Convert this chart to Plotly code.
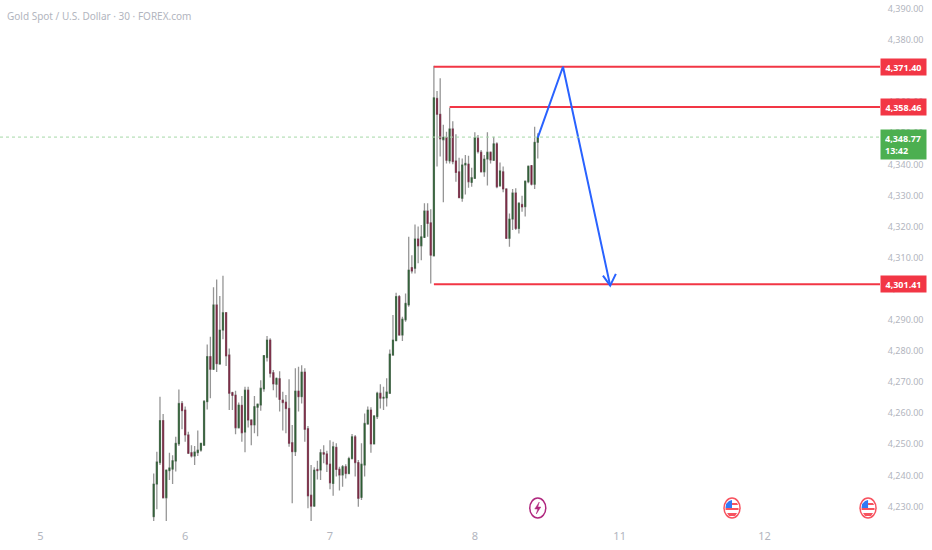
#!/usr/bin/python3
# -*- coding: utf-8 -*-
import plotly.graph_objs as go

# 30 minute bars
bar_open = [4226.7,4237.2,4244.1,4257.6,4232.8,4241.5,4242.0,4244.6,4250.1,4263.1,4261.0,4253.0,4247.3,4246.2,4247.3,4248.1,4249.7,4263.7,4278.2,4274.1,
    4294.8,4275.8,4286.7,4292.3,4278.7,4266.6,4265.8,4255.3,4262.5,4253.9,4267.4,4257.8,4256.2,4261.9,4262.6,4267.8,4277.9,4283.5,4273.0,4269.3,
    4271.1,4264.2,4263.5,4261.5,4250.5,4247.6,4267.1,4265.3,4273.2,4255.0,4233.6,4230.1,4241.9,4241.7,4247.3,4246.9,4243.6,4237.4,4249.0,4242.0,
    4240.1,4242.8,4240.6,4245.4,4252.4,4244.1,4232.9,4243.3,4256.5,4261.0,4250.1,4258.9,4266.4,4264.8,4264.9,4266.4,4278.7,4283.3,4297.5,4285.1,
    4290.0,4294.8,4306.8,4306.6,4316.0,4313.8,4316.5,4325.0,4321.2,4310.6,4361.2,4356.1,4347.9,4348.7,4341.1,4351.4,4341.1,4337.6,4329.1,4339.8,
    4340.1,4334.2,4335.5,4348.4,4343.9,4337.6,4341.7,4343.9,4341.3,4346.6,4333.1,4337.6,4332.1,4316.2,4322.4,4330.8,4319.4,4327.1,4326.4,4334.4,
    4339.6,4333.6,4347.1]
bar_high = [4240.6,4247.6,4265.3,4259.7,4241.7,4247.3,4246.5,4252.4,4267.6,4263.9,4262.1,4254.0,4249.7,4249.4,4254.4,4250.5,4264.2,4282.1,4284.6,4300.5,
    4303.0,4297.7,4304.2,4292.4,4280.8,4266.9,4267.2,4263.4,4265.5,4268.5,4268.5,4258.0,4265.5,4262.9,4270.6,4278.7,4284.8,4284.1,4273.9,4271.5,
    4273.5,4266.9,4265.8,4270.9,4256.2,4274.4,4274.9,4275.4,4274.4,4255.9,4243.3,4242.6,4244.7,4248.4,4249.7,4247.9,4251.3,4250.8,4250.3,4242.8,
    4243.3,4243.6,4246.0,4253.3,4253.0,4244.9,4250.3,4259.9,4262.1,4261.9,4259.4,4266.9,4269.3,4268.5,4271.2,4280.5,4291.6,4298.7,4298.0,4291.0,
    4298.5,4316.7,4310.8,4320.7,4320.0,4320.5,4327.5,4327.5,4325.6,4371.7,4363.6,4367.7,4352.7,4350.5,4358.2,4353.9,4349.7,4342.1,4341.9,4343.0,
    4342.8,4338.9,4350.3,4349.4,4344.6,4343.0,4350.3,4344.1,4348.9,4347.1,4340.6,4339.3,4332.1,4324.2,4332.1,4332.3,4327.8,4329.9,4334.6,4339.6,
    4339.8,4352.1,4350.0]
bar_low = [4224.8,4229.1,4243.3,4232.8,4225.1,4238.5,4237.2,4241.2,4249.4,4254.8,4250.8,4246.9,4245.7,4243.3,4246.2,4247.6,4249.4,4261.2,4264.8,4273.9,
    4273.2,4275.8,4283.8,4275.2,4261.0,4261.0,4253.2,4255.1,4250.8,4247.4,4255.4,4249.7,4253.5,4252.6,4260.8,4266.9,4276.6,4271.5,4267.4,4265.0,
    4260.5,4254.4,4253.5,4249.2,4231.0,4246.2,4260.5,4263.1,4250.8,4229.4,4225.1,4230.1,4238.7,4238.5,4243.9,4241.1,4235.5,4233.4,4239.6,4235.1,
    4236.3,4239.0,4240.4,4245.1,4239.6,4229.9,4232.1,4239.6,4256.4,4247.3,4250.0,4258.1,4261.5,4261.0,4262.1,4266.2,4278.4,4283.3,4284.9,4283.2,
    4289.4,4294.2,4304.9,4304.9,4308.2,4309.2,4316.4,4316.7,4301.7,4310.6,4339.3,4342.5,4327.8,4340.3,4340.3,4340.0,4334.4,4329.1,4328.0,4330.3,
    4332.5,4332.8,4335.3,4343.5,4337.4,4336.0,4333.2,4340.3,4341.1,4332.3,4332.8,4331.0,4316.2,4313.5,4318.9,4318.9,4317.8,4324.8,4323.2,4333.9,
    4333.2,4332.1,4341.9]
bar_close = [4237.2,4244.3,4257.6,4232.8,4241.7,4242.4,4244.7,4250.3,4263.1,4260.8,4253.0,4247.1,4246.2,4247.5,4248.1,4250.3,4263.8,4278.2,4274.1,4294.8,
    4275.9,4286.7,4292.3,4278.4,4266.4,4265.7,4255.3,4262.6,4253.7,4267.4,4257.8,4256.2,4262.1,4262.9,4268.0,4278.5,4283.5,4272.8,4269.4,4271.2,
    4264.4,4263.4,4261.5,4250.3,4247.6,4267.1,4265.3,4273.2,4254.8,4233.4,4230.1,4241.7,4241.5,4247.3,4246.8,4243.6,4237.6,4249.2,4241.9,4240.1,
    4242.8,4240.6,4245.4,4252.4,4244.1,4232.6,4243.6,4256.7,4261.0,4250.1,4259.1,4266.4,4264.8,4265.1,4266.8,4279.0,4283.5,4297.5,4285.1,4290.2,
    4295.3,4306.0,4305.7,4316.0,4313.8,4316.7,4325.0,4321.0,4310.8,4361.4,4356.1,4348.2,4348.7,4341.3,4351.4,4340.9,4337.4,4329.3,4339.8,4340.3,
    4334.4,4335.7,4348.6,4344.1,4337.6,4341.7,4343.9,4341.4,4346.6,4332.8,4337.9,4332.1,4316.2,4322.4,4330.8,4319.4,4327.5,4326.3,4334.6,4339.4,
    4333.6,4347.1,4348.6]

level_prices = [4371.40, 4358.46, 4301.41]
level_starts = [89, 94, 89]
level_text = ["4,371.40", "4,358.46", "4,301.41"]
last_price = 4348.77
last_text = "4,348.77<br>13:42"

# hand drawn projection, bar number / price
path_x = [122, 130, 145]
path_y = [4348.6, 4371.4, 4301.0]
head_x = [142.7, 145, 146.8]
head_y = [4304.2, 4301.0, 4304.8]

day_ticks = [-36, 10, 56, 102, 148, 194]
day_text = ["5", "6", "7", "8", "11", "12"]
price_ticks = [4230,4240,4250,4260,4270,4280,4290,4300,4310,4320,4330,4340,4350,4360,4370,4380,4390]
bolt_event = [122]
flag_events = [183.7, 226.9]
event_price = 4229.5

x_end = 230.7
bars = list(range(len(bar_open)))
GREY = "#b2b5be"
RED = "#f23645"
BLUE = "#2962ff"
FONT = "Noto Sans"

fig = go.Figure()

# first pass draws the wicks, second pass the bodies on top
fig.add_trace(go.Candlestick(x=bars, open=bar_open, high=bar_high, low=bar_low, close=bar_close,
    increasing=dict(line=dict(color="#969696", width=1.3), fillcolor="#969696"),
    decreasing=dict(line=dict(color="#969696", width=1.3), fillcolor="#969696"),
    whiskerwidth=0, hoverinfo="skip", showlegend=False))
body_high = [max(o, c) for o, c in zip(bar_open, bar_close)]
body_low = [min(o, c) for o, c in zip(bar_open, bar_close)]
fig.add_trace(go.Candlestick(x=bars, open=bar_open, high=body_high, low=body_low, close=bar_close,
    increasing=dict(line=dict(color="#2c5e33", width=0.6), fillcolor="#2c5e33"),
    decreasing=dict(line=dict(color="#7a2340", width=0.6), fillcolor="#7a2340"),
    whiskerwidth=0, hoverinfo="skip", showlegend=False))

for p, s in zip(level_prices, level_starts):
    fig.add_trace(go.Scatter(x=[s, x_end], y=[p, p], mode="lines", line=dict(color=RED, width=2),
        hoverinfo="skip", showlegend=False))

fig.add_trace(go.Scatter(x=path_x, y=path_y, mode="lines", line=dict(color=BLUE, width=2), hoverinfo="skip", showlegend=False))
fig.add_trace(go.Scatter(x=head_x, y=head_y, mode="lines", line=dict(color=BLUE, width=2), hoverinfo="skip", showlegend=False))

fig.add_shape(type="line", xref="paper", x0=0, x1=1, y0=last_price, y1=last_price,
    line=dict(color="#a5d8a7", width=1, dash="dot"))

# event icons, sized in pixels around their bar
bolt = "M 1.5 6 L -3 -1 L 0 -1 L -1.5 -6 L 3 1 L 0 1 Z"
for x in bolt_event:
    fig.add_shape(type="circle", xsizemode="pixel", ysizemode="pixel", xanchor=x, yanchor=event_price,
        x0=-8, x1=8, y0=-10, y1=10, line=dict(color="#b0287f", width=1.5), fillcolor="white")
    fig.add_shape(type="path", xsizemode="pixel", ysizemode="pixel", xanchor=x, yanchor=event_price,
        path=bolt, line=dict(color="#b0287f", width=0.5), fillcolor="#b0287f")
for x in flag_events:
    fig.add_shape(type="circle", xsizemode="pixel", ysizemode="pixel", xanchor=x, yanchor=event_price,
        x0=-8, x1=8, y0=-10, y1=10, line=dict(color="#f7525f", width=1.5), fillcolor="white")
    fig.add_shape(type="path", xsizemode="pixel", ysizemode="pixel", xanchor=x, yanchor=event_price,
        path="M -6.5 0 L -6 4 L -3 7 L 0 8 L 0 0 Z", line=dict(width=0), fillcolor="#3179f5")
    fig.add_shape(type="path", xsizemode="pixel", ysizemode="pixel", xanchor=x, yanchor=event_price,
        path="M 0 5 L 5 5 L 6 3 L 0 3 Z M -6.5 0 L 6.5 0 L 6.5 -2 L -6.5 -2 Z M -5 -5 L 5 -5 L 3 -8 L -3 -8 Z",
        line=dict(width=0), fillcolor="#f7525f")

for p, t in zip(level_prices, level_text):
    fig.add_annotation(xref="paper", x=1, y=p, xanchor="left", yanchor="middle", text="<b>" + t + "</b>", showarrow=False,
        width=43, height=14, bgcolor=RED, font=dict(color="white", size=9, family=FONT))
fig.add_annotation(xref="paper", x=1, y=last_price, xanchor="left", yanchor="middle", yshift=-7.5, text="<b>" + last_text + "</b>",
    showarrow=False, width=37, height=21, borderpad=4, bgcolor="#4caf50", align="left", font=dict(color="white", size=9, family=FONT))

fig.add_annotation(xref="paper", yref="paper", x=5 / 880, y=1 - 16 / 521, xanchor="left", yanchor="middle",
    text="Gold Spot / U.S. Dollar · 30 · FOREX.com", showarrow=False, font=dict(color=GREY, size=10, family=FONT))

fig.update_layout(width=932, height=550, margin=dict(l=0, r=52, t=0, b=29), plot_bgcolor="white", paper_bgcolor="white",
    showlegend=False, boxgap=0.55, font=dict(family=FONT, color=GREY, size=10),
    xaxis=dict(range=[-48.82, x_end], tickvals=day_ticks, ticktext=day_text, showgrid=False, zeroline=False,
        showline=False, ticks="outside", ticklen=5, tickcolor="white", rangeslider=dict(visible=False), tickfont=dict(size=11, color=GREY)),
    yaxis=dict(range=[4225.32, 4392.85], side="right", tickvals=price_ticks, tickformat=",.2f", showgrid=False, zeroline=False,
        showline=False, ticks="outside", ticklen=5, tickcolor="white", tickfont=dict(size=9, color=GREY)))

# the page's default body margin would shift the chart
fig.write_html("out.html", config=dict(displayModeBar=False),
    post_script="document.body.style.margin='0';document.body.style.overflow='hidden';")
